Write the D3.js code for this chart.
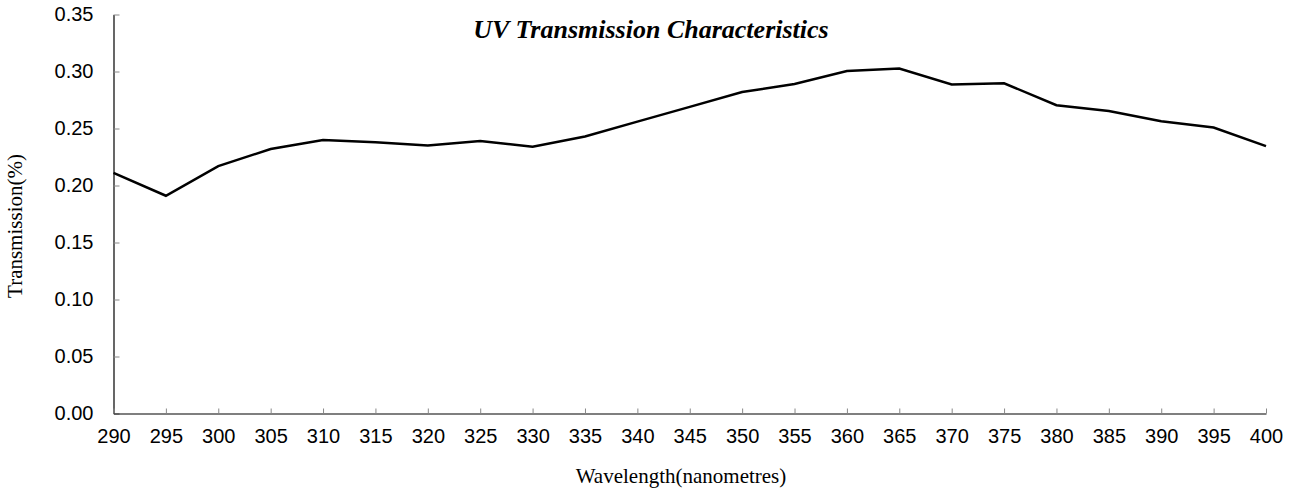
<!DOCTYPE html>
<html><head><meta charset="utf-8">
<script src="https://cdn.jsdelivr.net/npm/d3@7"></script>
<style>body{margin:0;background:#fff}</style>
</head><body>
<svg id="c" width="1296" height="490"></svg>
<script>
const wavelengths = [290,295,300,305,310,315,320,325,330,335,340,345,350,355,360,365,370,375,380,385,390,395,400];
const transmission = [0.211,0.191,0.217,0.232,0.240,0.238,0.235,0.239,0.234,0.243,0.256,0.269,0.282,0.289,0.3005,0.3026,0.2886,0.2897,0.2704,0.2654,0.2564,0.2509,0.2345];
const yTicks = [0,0.05,0.10,0.15,0.20,0.25,0.30,0.35];
const xTicks = wavelengths;
const title = "UV Transmission Characteristics";
const xTitle = "Wavelength(nanometres)";
const yTitle = "Transmission(%)";

const svg = d3.select("#c");
const L=113.5, R=1266, T=14.5, B=413.5;
const x = d3.scaleLinear().domain([290,400]).range([L,R]);
const y = d3.scaleLinear().domain([0,0.35]).range([B,T]);

const sans = "'Liberation Sans', Arial, sans-serif";
const serif = "'Liberation Serif', 'Times New Roman', serif";

// y axis
const ya = svg.append("g").attr("transform",`translate(${L},0)`)
  .call(d3.axisLeft(y).tickValues(yTicks).tickFormat(d3.format(".2f")).tickSizeInner(-6).tickSizeOuter(0).tickPadding(20));
ya.select(".domain").attr("stroke","#000").attr("stroke-width",1.2);
ya.selectAll(".tick line").attr("stroke","#888");
ya.selectAll(".tick text").attr("font-family",sans).attr("font-size",20).attr("fill","#000");

// x axis
const xa = svg.append("g").attr("transform",`translate(0,${B})`)
  .call(d3.axisBottom(x).tickValues(xTicks).tickFormat(d3.format("d")).tickSizeInner(-5).tickSizeOuter(0).tickPadding(15));
xa.select(".domain").attr("stroke","#000").attr("stroke-width",1.2);
xa.selectAll(".tick line").attr("stroke","#888");
xa.selectAll(".tick text").attr("font-family",sans).attr("font-size",20).attr("fill","#000");

// line
const line = d3.line().x((d,i)=>x(wavelengths[i])).y(d=>y(d));
svg.append("path").datum(transmission).attr("d",line)
  .attr("fill","none").attr("stroke","#000").attr("stroke-width",2.5).attr("stroke-linejoin","miter");

// titles
svg.append("text").attr("x",651).attr("y",38).attr("text-anchor","middle")
  .attr("font-family",serif).attr("font-weight","bold").attr("font-style","italic").attr("font-size",26).text(title);
svg.append("text").attr("x",681).attr("y",483).attr("text-anchor","middle")
  .attr("font-family",serif).attr("font-size",21).text(xTitle);
svg.append("text").attr("transform","translate(22,226) rotate(-90)").attr("text-anchor","middle")
  .attr("font-family",serif).attr("font-size",21).text(yTitle);
</script>
</body></html>
